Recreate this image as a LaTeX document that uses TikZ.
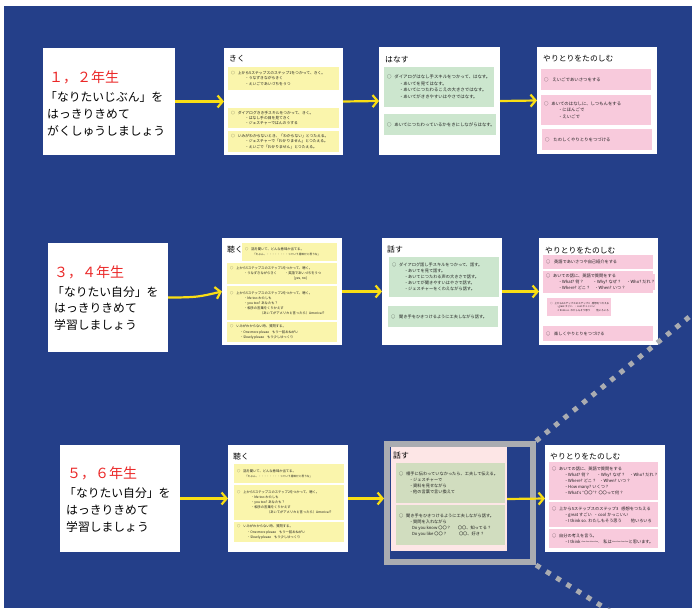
\documentclass[tikz,border=0pt]{standalone}
\usepackage{fontspec}
\setmainfont{Noto Sans CJK JP}
\usetikzlibrary{arrows.meta}
\definecolor{bgblue}{RGB}{36,63,137}
\definecolor{ayellow}{RGB}{250,222,20}
\definecolor{ybox}{RGB}{250,245,172}
\definecolor{gbox}{RGB}{204,230,206}
\definecolor{pbox}{RGB}{248,202,220}
\definecolor{lpink}{RGB}{253,230,230}
\definecolor{sage}{RGB}{209,221,191}
\definecolor{fgray}{RGB}{170,172,177}
\definecolor{tred}{RGB}{235,40,40}
\definecolor{tgray}{RGB}{30,30,30}
\newcommand\mybox[7]{%
  \pgfmathsetmacro\mbw{#4-#2}%
  \pgfmathsetmacro\mbh{#5-#3}%
  \node[cbox,#6,minimum width=\mbw pt,minimum height=\mbh pt,anchor=north west] (#1) at (#2,#3) {};%
  \node[btxt,#6,anchor=west] (#1t) at ([xshift=3pt]#1.west) {#7};%
}
\newcommand\sub[1][10pt]{\hspace*{#1}}
\begin{document}
\begin{tikzpicture}[x=1pt,y=-1pt,
  cbox/.style={inner sep=0pt,outer sep=0pt,draw=none},
  btxt/.style={inner sep=0pt,outer sep=0pt,align=left,text=tgray,fill=none},
  wbox/.style={fill=white},
  yb/.style={fill=ybox}, gb/.style={fill=gbox}, pb/.style={fill=pbox}, sb/.style={fill=sage},
  fa/.style={font=\fontsize{3.8}{5.4}\selectfont},
  fb/.style={font=\fontsize{4.4}{6.5}\selectfont},
  fc/.style={font=\fontsize{3.3}{5.1}\selectfont},
  fd/.style={font=\fontsize{2.5}{3.9}\selectfont},
  fe/.style={font=\fontsize{4.2}{6}\selectfont},
  ttl/.style={inner sep=0pt,anchor=west,font=\fontsize{7.8}{7.8}\selectfont,text=black},
  redt/.style={inner sep=0pt,anchor=west,font=\fontsize{14}{14}\selectfont,text=tred},
  blkt/.style={inner sep=0pt,anchor=west,font=\fontsize{11.8}{11.8}\selectfont,text=black},
  yarrow/.style={draw=ayellow,line width=2.2pt,-{Straight Barb[length=5pt,width=12pt,line width=2.2pt]}},
  dots/.style={draw=fgray,line width=5pt,dash pattern=on 5pt off 7pt}
]
\useasboundingbox (0,0) rectangle (692,608);
\fill[white] (0,0) rectangle (692,608);
\fill[bgblue] (4,6) rectangle (692,608);

% ---------------- Row 1 ----------------
\mybox{L1}{43}{48}{175}{155}{wbox}{}
\node[redt] (r1a) at (49,77) {１，２年生};
\node[blkt] (r1b) at (45,97) {「なりたいじぶん」を};
\node[blkt] (r1c) at (47,114) {はっきりきめて};
\node[blkt] (r1d) at (47,131) {がくしゅうしましょう};

\mybox{K1}{224}{48}{343}{155}{wbox}{}
\node[ttl] (K1h) at (229,59) {きく};
\mybox{K1a}{228}{67}{339}{90}{yb,fa}{○\hspace{3pt}上から5ステップスのステップ1をつかって、きく。\\\sub[14pt]・うなずきながらきく\\\sub[14pt]・えいごであいづちをうつ}
\mybox{K1b}{228}{108}{339}{128}{yb,fa}{○\hspace{3pt}ダイアログきき手スキルをつかって、きく。\\\sub[14pt]・はなし手の目を見てきく\\\sub[14pt]・ジェスチャーではんのうする}
\mybox{K1c}{228}{131}{339}{152}{yb,fa}{○\hspace{3pt}いみがわからないとき、「わからない」とつたえる。\\\sub[14pt]・ジェスチャーで「わかりません」とつたえる。\\\sub[14pt]・えいごで「わかりません」とつたえる。}

\mybox{H1}{379}{47}{500}{155}{wbox}{}
\node[ttl] (H1h) at (385,60) {はなす};
\mybox{H1a}{384}{67}{494}{107}{gb,fb}{○\hspace{3pt}ダイアログはなし手スキルをつかって、はなす。\\\sub[12pt]・あいてを見てはなす。\\\sub[12pt]・あいてにつたわるこえの大きさではなす。\\\sub[12pt]・あいてがききやすいはやさではなす。}
\mybox{H1b}{384}{114}{496}{135}{gb,fb}{○\hspace{3pt}あいてにつたわっているかをきにしながらはなす。}

\mybox{Y1}{537}{47}{657}{154}{wbox}{}
\node[ttl] (Y1h) at (543,59) {やりとりをたのしむ};
\mybox{Y1a}{541}{69}{651}{90}{pb,fb}{○\hspace{4pt}えいごであいさつをする}
\mybox{Y1b}{541}{95}{651}{125}{pb,fb}{○\hspace{3pt}あいてのはなしに、しつもんをする\\\sub[14pt]・にほんごで\\\sub[14pt]・えいごで}
\mybox{Y1c}{542}{129}{652}{150}{pb,fb}{○\hspace{4pt}たのしくやりとりをつづける}

\draw[yarrow] (L1.east) -- (K1.west);
\draw[yarrow] (K1.east) -- (H1.west);
\draw[yarrow] (H1.east) -- (Y1.west);

% ---------------- Row 2 ----------------
\mybox{L2}{48}{243}{168}{352}{wbox}{}
\node[redt] (r2a) at (54,272) {３，４年生};
\node[blkt] (r2b) at (52,292) {「なりたい自分」を};
\node[blkt] (r2c) at (54,308) {はっきりきめて};
\node[blkt] (r2d) at (54,325) {学習しましょう};

\mybox{K2}{222}{238}{342}{345}{wbox}{}
\node[ttl] (K2h) at (227,250) {聴く};
\mybox{K2a}{242}{243}{337}{261}{yb,fc}{○\hspace{3pt}話を聞いて、どんな意味か当てる。\\\sub[8pt]{\fontsize{2.7}{4}\selectfont「たぶん、・・・・・・・・っていう意味だと思うな」}}
\mybox{K2b}{227}{263}{337}{284}{yb,fc}{○\hspace{3pt}上から5ステップスのステップ1をつかって、聴く。\\\sub[14pt]・うなずきながらきく\hspace{8pt}・英語であいづちをうつ\\\sub[64pt][yes, no]}
\mybox{K2c}{227}{286}{337}{320}{yb,fc}{○\hspace{3pt}上から5ステップスのステップ2をつかって、聴く。\\\sub[14pt]・Me too わたしも\\\sub[14pt]・you too? あなたも？\\\sub[14pt]・相手の言葉をくりかえす\\\sub[30pt]（あいてがアメリカと言ったら）America!?}
\mybox{K2d}{227}{322}{337}{342}{yb,fc}{○\hspace{3pt}いみがわからない時、質問する。\\\sub[10pt]・One more please\hspace{3pt}もう一回おねがい\\\sub[10pt]・Slowly please\hspace{3pt}もう少しゆっくり}

\mybox{H2}{382}{238}{502}{345}{wbox}{}
\node[ttl] (H2h) at (387,250) {話す};
\mybox{H2a}{389}{257}{499}{297}{gb,fe}{○\hspace{3pt}ダイアログ話し手スキルをつかって、話す。\\\sub[12pt]・あいてを見て話す。\\\sub[12pt]・あいてにつたわる声の大きさで話す。\\\sub[12pt]・あいてが聞きやすいはやさで話す。\\\sub[12pt]・ジェスチャーをくわえながら話す。}
\mybox{H2b}{388}{306}{498}{327}{gb,fe}{○\hspace{4pt}聞き手をひきつけるように工夫しながら話す。}

\mybox{Y2}{539}{238}{658}{345}{wbox}{}
\node[ttl] (Y2h) at (545,251) {やりとりをたのしむ};
\mybox{Y2a}{543}{255}{653}{269}{pb,fe}{○\hspace{4pt}英語であいさつや自己紹介をする}
\mybox{Y2b}{543}{271}{653}{293}{pb,fe}{○\hspace{3pt}あいての話に、英語で質問をする\\\sub[12pt]・What? 何？\hspace{9pt}・Why? なぜ？\hspace{5pt}・Who? だれ？\\\sub[12pt]・Where? どこ？\hspace{4pt}・When? いつ？}
\mybox{Y2c}{547}{298}{611}{316}{pb,fd}{○\hspace{2pt}上から5ステップスのステップ3\hspace{2pt}感想をつたえる\\\sub[6pt]・great すごい\hspace{2pt}・cool かっこいい\\\sub[6pt]・I think so. わたしもそう思う\hspace{6pt}他いろいろ}
\mybox{Y2d}{543}{326}{653}{341}{pb,fe}{○\hspace{4pt}楽しくやりとりをつづける}

\draw[yarrow] (L2.east) .. controls +(30,0) and +(-22,5) .. (K2.west);
\draw[yarrow] (K2.east) -- (H2.west);
\draw[yarrow] (H2.east) -- (Y2.west);

% ---------------- Row 3 ----------------
\begin{scope}
\clip (4,6) rectangle (692,608);
\coordinate (d1a) at (536,441);
\coordinate (d1b) at (720,292);
\coordinate (d2a) at (536,565);
\coordinate (d2b) at (640,630);
\draw[dots] (d1a) -- (d1b);
\draw[dots] (d2a) -- (d2b);
\end{scope}

\mybox{L3}{60}{445}{180}{552}{wbox}{}
\node[redt] (r3a) at (67,473) {５，６年生};
\node[blkt] (r3b) at (64,493) {「なりたい自分」を};
\node[blkt] (r3c) at (66,510) {はっきりきめて};
\node[blkt] (r3d) at (66,527) {学習しましょう};

\mybox{K3}{228}{445}{348}{552}{wbox}{}
\node[ttl] (K3h) at (233,457) {聴く};
\mybox{K3a}{234}{464}{344}{483}{yb,fc}{○\hspace{3pt}話を聞いて、どんな意味か当てる。\\\sub[8pt]{\fontsize{2.7}{4}\selectfont「たぶん、・・・・・・・・っていう意味だと思うな」}}
\mybox{K3b}{234}{485}{344}{520}{yb,fc}{○\hspace{3pt}上から5ステップスのステップ2をつかって、聴く。\\\sub[14pt]・Me too わたしも\\\sub[14pt]・you too? あなたも？\\\sub[14pt]・相手の言葉をくりかえす\\\sub[30pt]（あいてがアメリカと言ったら）America!?}
\mybox{K3c}{234}{522}{344}{542}{yb,fc}{○\hspace{3pt}いみがわからない時、質問する。\\\sub[10pt]・One more please\hspace{3pt}もう一回おねがい\\\sub[10pt]・Slowly please\hspace{3pt}もう少しゆっくり}

\node[draw=fgray,line width=6pt,inner sep=0pt,minimum width=146pt,minimum height=118pt] (frame) at (460,503) {};
\mybox{T3}{391}{447}{507}{551}{fill=lpink}{}
\node[ttl] (T3h) at (393,456) {話す};
\mybox{T3a}{396}{463}{505}{503}{sb,fe}{○\hspace{3pt}相手に伝わっていなかったら、工夫して伝える。\\\sub[10pt]・ジェスチャーで\\\sub[10pt]・資料を見せながら\\\sub[10pt]・他の言葉で言い換えて}
\mybox{T3b}{396}{505}{505}{545}{sb,fe}{○\hspace{3pt}聞き手をひきつけるように工夫しながら話す。\\\sub[10pt]・質問を入れながら\\\sub[13pt]Do you know 〇〇？\hspace{7pt}〇〇、知ってる？\\\sub[13pt]Do you like 〇〇？\hspace{12pt}〇〇、好き？}

\mybox{Y3}{545}{445}{665}{552}{wbox}{}
\node[ttl] (Y3h) at (550,457) {やりとりをたのしむ};
\mybox{Y3a}{549}{462}{658}{500}{pb,fe}{○\hspace{3pt}あいての話に、英語で質問をする\\\sub[12pt]・What? 何？\hspace{7pt}・Why? なぜ？\hspace{4pt}・Who? だれ？\\\sub[12pt]・Where? どこ？\hspace{3pt}・When? いつ？\\\sub[12pt]・How many? いくつ？\\\sub[12pt]・What’s “〇〇”?\hspace{2pt}〇〇って何？}
\mybox{Y3b}{549}{502}{658}{527}{pb,fe}{○\hspace{3pt}上から5ステップスのステップ3\hspace{3pt}感想をつたえる\\\sub[12pt]・great すごい\hspace{2pt}・cool かっこいい\\\sub[12pt]・I think so. わたしもそう思う\hspace{9pt}他いろいろ}
\mybox{Y3c}{549}{529}{658}{548}{pb,fe}{○\hspace{3pt}自分の考えを言う。\\\sub[12pt]・I think 〜〜〜〜.\hspace{4pt}私は〜〜〜〜と思います。}

\draw[yarrow] (L3.east) -- (K3.west);
\draw[yarrow] (K3.east) -- (K3.east -| frame.west);
\draw[yarrow] (T3.east) -- (Y3.west);
\end{tikzpicture}
\end{document}
